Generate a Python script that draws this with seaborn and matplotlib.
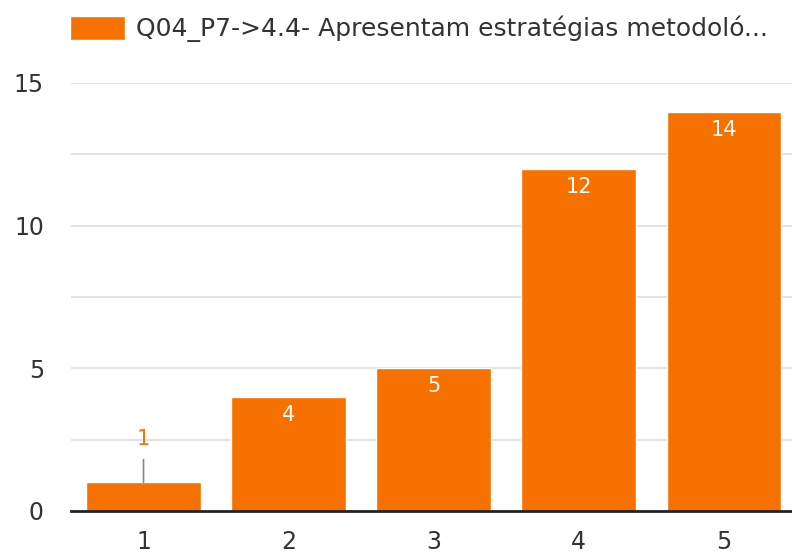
import matplotlib
matplotlib.use("Agg")
import matplotlib.pyplot as plt
import seaborn as sns
import pandas as pd

# Data
categories = ["1", "2", "3", "4", "5"]
counts = [1, 4, 5, 12, 14]
series_name = "Q04_P7->4.4- Apresentam estratégias metodoló..."
y_ticks = [0, 5, 10, 15]

bar_color = "#F77100"

sns.set_theme(style="white")
plt.rcParams["font.family"] = ["DejaVu Sans"]

df = pd.DataFrame({"categoria": categories, "n": counts})

fig = plt.figure(figsize=(7.92, 5.57), dpi=100)
ax = fig.add_axes([71 / 792, 46 / 557, 1 - 71 / 792, (511 - 83) / 557])

sns.barplot(data=df, x="categoria", y="n", color=bar_color, width=0.79,
            saturation=1, label=series_name, ax=ax, zorder=3)

ax.set_ylim(0, 15)
ax.set_xlim(-0.5, 4.47)
ax.set_yticks(y_ticks)
ax.set_yticks([2.5, 7.5, 12.5], minor=True)
ax.grid(axis="y", which="both", color="#e3e3e3", linewidth=1.5, zorder=0)
ax.set_axisbelow(True)
for s in ["top", "right", "left"]:
    ax.spines[s].set_visible(False)
ax.spines["bottom"].set_color("#222222")
ax.spines["bottom"].set_linewidth(2)
ax.spines["bottom"].set_zorder(4)
ax.tick_params(axis="y", which="both", length=0, pad=19.5, labelsize=17, labelcolor="#333333")
ax.tick_params(axis="x", length=0, pad=14, labelsize=17, labelcolor="#333333")
ax.set_xlabel("")
ax.set_ylabel("")

# Value labels
for i, v in enumerate(counts):
    if v >= 3:
        ax.annotate(str(v), xy=(i, v), xytext=(0, -13), textcoords="offset points",
                    ha="center", va="center", color="white", fontsize=15, zorder=5)
    else:
        ax.annotate(str(v), xy=(i, v), xytext=(0, 31), textcoords="offset points",
                    ha="center", va="center", color=bar_color, fontsize=15, zorder=5,
                    arrowprops=dict(arrowstyle="-", color="#888888", lw=1.2,
                                    shrinkA=5, shrinkB=0))

leg = ax.legend(loc="upper left", bbox_to_anchor=(65 / 792, 1 - 11 / 557),
                bbox_transform=fig.transFigure, frameon=False, fontsize=18,
                handlelength=2.2, handleheight=1.1, handletextpad=0.45,
                borderaxespad=0, borderpad=0.2)
for t in leg.get_texts():
    t.set_color("#333333")

fig.savefig("out.png", dpi=100)
